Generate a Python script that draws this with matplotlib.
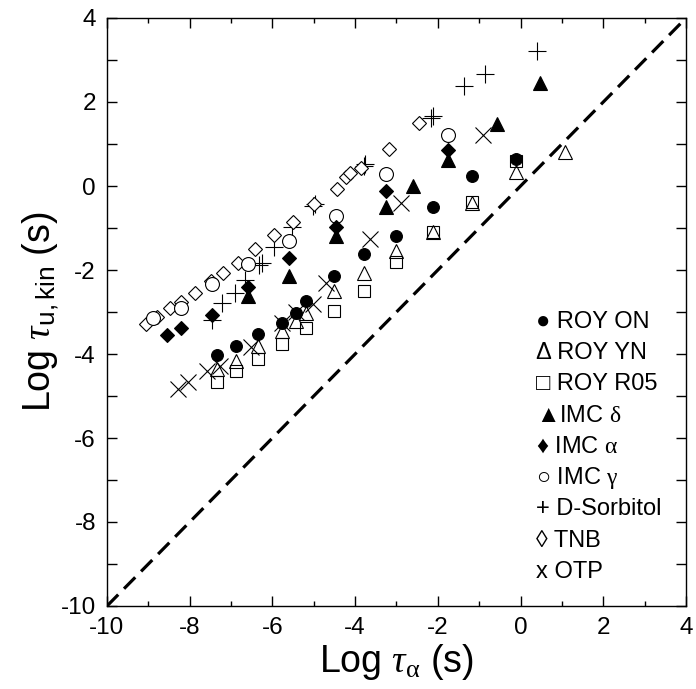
import matplotlib
matplotlib.use('Agg')
import matplotlib.pyplot as plt
from matplotlib.ticker import MultipleLocator

plt.rcParams['font.family'] = ['Liberation Sans', 'DejaVu Sans']
plt.rcParams['mathtext.fontset'] = 'custom'
plt.rcParams['mathtext.rm'] = 'Liberation Sans'
plt.rcParams['mathtext.it'] = 'Liberation Serif:italic'
plt.rcParams['mathtext.sf'] = 'Liberation Serif'
plt.rcParams['axes.unicode_minus'] = False

# ---------------- data ----------------
roy_on_x = [-7.35, -6.87, -6.35, -5.78, -5.42, -5.18, -4.51, -3.78, -3.00, -2.12, -1.17, -0.12]
roy_on_y = [-4.02, -3.80, -3.53, -3.25, -3.03, -2.73, -2.14, -1.62, -1.18, -0.49, 0.25, 0.64]

roy_yn_x = [-7.35, -6.87, -6.35, -5.78, -5.42, -5.18, -4.51, -3.78, -3.00, -2.12, -1.17, -0.12, 1.07]
roy_yn_y = [-4.36, -4.17, -3.82, -3.45, -3.21, -3.03, -2.50, -2.06, -1.54, -1.09, -0.41, 0.34, 0.82]

roy_r05_x = [-7.35, -6.87, -6.35, -5.78, -5.18, -4.51, -3.78, -3.00, -2.12, -1.17, -0.12]
roy_r05_y = [-4.67, -4.40, -4.11, -3.76, -3.39, -2.98, -2.49, -1.80, -1.09, -0.37, 0.60]

imc_d_x = [-6.60, -5.61, -4.46, -3.26, -2.60, -1.75, -0.57, 0.46]
imc_d_y = [-2.62, -2.14, -1.18, -0.49, 0.01, 0.62, 1.48, 2.46]

imc_a_x = [-8.56, -8.22, -7.45, -6.60, -5.61, -4.46, -3.26, -1.75]
imc_a_y = [-3.55, -3.37, -3.07, -2.40, -1.72, -0.97, -0.12, 0.86]

imc_g_x = [-8.89, -8.21, -7.46, -6.60, -5.60, -4.46, -3.26, -1.75]
imc_g_y = [-3.14, -2.91, -2.33, -1.85, -1.31, -0.71, 0.29, 1.21]

sorb_x = [-7.45, -7.23, -6.91, -6.67, -6.33, -6.26, -5.96, -5.52, -5.02, -4.98, -3.79, -3.75, -2.16, -2.12, -1.37, -0.87, 0.39]
sorb_y = [-3.19, -2.79, -2.55, -2.24, -1.88, -1.83, -1.45, -0.97, -0.48, -0.44, 0.48, 0.52, 1.63, 1.66, 2.38, 2.67, 3.21]

tnb_x = [-9.05, -8.80, -8.48, -8.20, -7.88, -7.49, -7.19, -6.83, -6.42, -5.97, -5.50, -4.99,
         -4.45, -4.21, -4.13, -3.85, -3.18, -2.45]
tnb_y = [-3.29, -3.11, -2.90, -2.75, -2.55, -2.26, -2.08, -1.83, -1.50, -1.17, -0.85, -0.42,
         -0.07, 0.22, 0.30, 0.42, 0.88, 1.49]

otp_x = [-8.28, -8.04, -7.58, -7.27, -6.51, -5.78, -5.42, -5.02, -4.71, -3.63, -2.88, -0.91]
otp_y = [-4.84, -4.66, -4.41, -4.29, -3.83, -3.25, -3.01, -2.80, -2.32, -1.27, -0.41, 1.21]

diag = [-10, 4]

legend_labels = ['\u25CF ROY ON', '\u0394 ROY YN', '\u25A1 ROY R05', '\u25B2IMC $\\mathsf{\\delta}$',
                 '\u2666 IMC $\\mathsf{\\alpha}$', '\u25CB IMC $\\mathsf{\\gamma}$', '+ D-Sorbitol',
                 '\u25CA TNB', 'x OTP']

xticks = [-10, -8, -6, -4, -2, 0, 2, 4]
yticks = [-10, -8, -6, -4, -2, 0, 2, 4]

# ---------------- figure ----------------
fig = plt.figure(figsize=(6.96, 6.89), dpi=100)
ax = fig.add_axes([107 / 696, 83 / 689, 579 / 696, 588 / 689])

ax.plot(diag, diag, color='k', lw=2.3, dashes=(5, 2.6), zorder=1)

mew = 0.8
ax.plot(otp_x, otp_y, 'x', color='k', ms=11.5, mew=mew, ls='none')
ax.plot(sorb_x, sorb_y, '+', color='k', ms=12.5, mew=mew, ls='none')
ax.plot(tnb_x, tnb_y, 'D', mfc='white', mec='k', ms=7, mew=mew, ls='none')
ax.plot(imc_g_x, imc_g_y, 'o', mfc='white', mec='k', ms=10, mew=mew, ls='none')
ax.plot(imc_a_x, imc_a_y, 'D', mfc='k', mec='k', ms=7, mew=mew, ls='none')
ax.plot(imc_d_x, imc_d_y, '^', mfc='k', mec='k', ms=10, mew=mew, ls='none')
ax.plot(roy_r05_x, roy_r05_y, 's', mfc='none', mec='k', ms=9, mew=mew, ls='none')
ax.plot(roy_yn_x, roy_yn_y, '^', mfc='none', mec='k', ms=10.5, mew=mew, ls='none')
ax.plot(roy_on_x, roy_on_y, 'o', mfc='k', mec='k', ms=8.5, mew=mew, ls='none')

ax.set_xlim(-10, 4)
ax.set_ylim(-10, 4)
ax.set_xticks(xticks)
ax.set_yticks(yticks)
ax.set_xticklabels([str(t) for t in xticks])
ax.set_yticklabels([str(t) for t in yticks])
ax.xaxis.set_minor_locator(MultipleLocator(1))
ax.yaxis.set_minor_locator(MultipleLocator(1))
ax.tick_params(which='both', direction='in', top=True, right=True, width=1.0, labelsize=17.5)
ax.tick_params(axis='x', which='major', length=7, pad=8)
ax.tick_params(axis='x', which='minor', length=3.5)
ax.tick_params(axis='y', which='both', length=7, pad=8)
for s in ax.spines.values():
    s.set_linewidth(1.0)

ax.set_xlabel(r'Log $\tau_{\mathsf{\alpha}}$ (s)', fontsize=27, labelpad=2)
ax.set_ylabel(r'Log $\tau_{\mathrm{u,kin}}$ (s)', fontsize=27, labelpad=0)

y0 = -3.23
dy = 0.745
for i, lab in enumerate(legend_labels):
    ax.text(0.37, y0 - i * dy, lab, fontsize=17, ha='left', va='center')

fig.savefig('out.png', dpi=100)
